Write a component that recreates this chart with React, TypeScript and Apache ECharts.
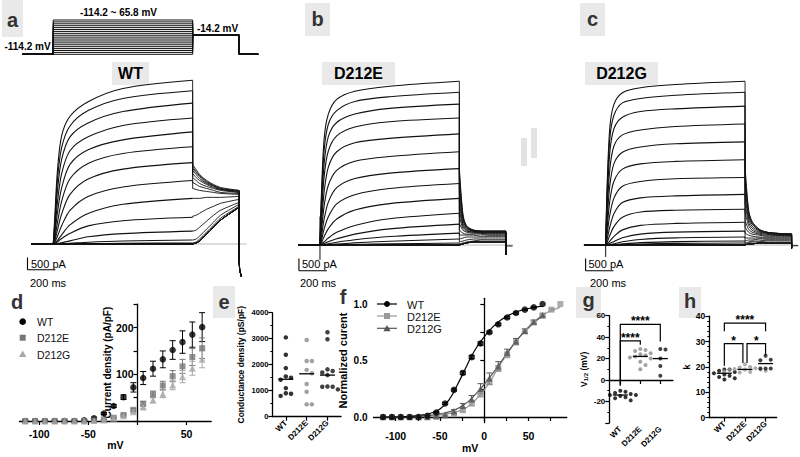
import React, { useEffect, useRef } from "react";
import * as echarts from "echarts";

const FONT = "'Liberation Sans', Arial, Helvetica, sans-serif";

// ---------- voltage protocol (mV) and sweep timing (ms) ----------
const TEST_POTENTIALS = [-114.2, -104.2, -94.2, -84.2, -74.2, -64.2, -54.2, -44.2, -34.2, -24.2, -14.2, -4.2, 5.8, 15.8, 25.8, 35.8, 45.8, 55.8, 65.8];
const HOLDING_MV = -114.2;
const TAIL_MV = -14.2;
const SWEEP_START_MS = -220;
const STEP_END_MS = 1000;
const TAIL_END_MS = 1334;
const SWEEP_END_MS = 1470;

// ---------- whole-cell current sweeps (pA) ----------
const STEP_TIMES = [0, 10, 30, 60, 120, 250, 500, 1000];
const TAIL_TIMES = [1000, 1025, 1050, 1100, 1150, 1200, 1334];

const WT_STEP = [
  [0, 990, 2970, 4360, 5150, 5740, 6270, 6600],
  [0, 800, 2600, 3890, 4760, 5380, 5870, 6180],
  [0, 620, 2160, 3410, 4320, 4880, 5340, 5680],
  [0, 460, 1680, 2840, 3760, 4320, 4780, 5080],
  [0, 320, 1270, 2260, 3210, 3800, 4200, 4520],
  [0, 200, 860, 1720, 2630, 3250, 3650, 3920],
  [0, 130, 560, 1210, 2000, 2620, 3020, 3280],
  [0, 80, 310, 740, 1360, 1920, 2300, 2560],
  [0, 40, 150, 370, 770, 1230, 1600, 1840],
  [0, 20, 90, 220, 430, 730, 940, 1080],
  [0, 5, 20, 50, 125, 290, 420, 520],
  [0, 0, 3, 10, 26, 72, 120, 160],
  [0, 0, 0, 2, 5, 16, 28, 40],
];
const WT_TAIL = [
  [3200, 3000, 2800, 2560, 2400, 2280, 2160],
  [3120, 2920, 2760, 2520, 2360, 2240, 2160],
  [3040, 2880, 2720, 2480, 2360, 2240, 2120],
  [2960, 2800, 2640, 2440, 2320, 2200, 2120],
  [2840, 2680, 2560, 2400, 2280, 2200, 2080],
  [2680, 2560, 2440, 2320, 2240, 2160, 2080],
  [2480, 2400, 2320, 2240, 2160, 2080, 2040],
  [2240, 2200, 2160, 2120, 2080, 2040, 2000],
  [1840, 1840, 1840, 1880, 1880, 1880, 1920],
  [1120, 1160, 1240, 1400, 1520, 1640, 1800],
  [520, 560, 680, 920, 1160, 1360, 1680],
  [160, 200, 320, 600, 880, 1160, 1600],
  [40, 80, 200, 480, 760, 1040, 1520],
];
const WT_CLOSED_TAIL = [0, 40, 120, 400, 680, 960, 1480];
const WT_CLOSED_SWEEPS = 6;
const WT_RETURN = [[1334, -100], [1334, -600], [1337, -1050], [1350, -1320]];

const D212E_STEP = [
  [0, 1980, 4290, 5280, 5870, 6200, 6400, 6600],
  [0, 1730, 3820, 4870, 5420, 5790, 5980, 6160],
  [0, 1420, 3290, 4370, 4940, 5280, 5510, 5680],
  [0, 1130, 2770, 3790, 4400, 4760, 4970, 5120],
  [0, 810, 2150, 3140, 3760, 4120, 4300, 4480],
  [0, 530, 1580, 2410, 3010, 3380, 3570, 3760],
  [0, 310, 1050, 1730, 2310, 2680, 2900, 3080],
  [0, 170, 650, 1140, 1660, 2030, 2280, 2480],
  [0, 90, 340, 660, 1050, 1410, 1670, 1880],
  [0, 40, 130, 280, 510, 790, 1060, 1280],
  [0, 20, 60, 130, 250, 440, 650, 840],
  [0, 5, 20, 50, 110, 210, 340, 480],
  [0, 0, 5, 14, 36, 84, 154, 240],
  [0, 0, 1, 3, 8, 22, 46, 80],
];
const D212E_TAIL = [
  [3120, 1280, 800, 600, 560, 560, 560],
  [2920, 1200, 760, 600, 560, 560, 560],
  [2680, 1120, 720, 600, 560, 560, 560],
  [2400, 1040, 720, 560, 560, 520, 520],
  [2120, 920, 680, 560, 520, 520, 520],
  [1760, 840, 640, 560, 520, 520, 520],
  [1440, 760, 600, 520, 520, 480, 480],
  [1160, 680, 560, 520, 480, 480, 480],
  [880, 600, 520, 480, 480, 440, 440],
  [600, 480, 440, 440, 440, 400, 400],
  [400, 400, 400, 400, 360, 360, 360],
  [240, 280, 320, 320, 320, 320, 320],
  [120, 160, 200, 240, 240, 240, 240],
  [40, 80, 120, 160, 200, 200, 200],
];
const D212E_CLOSED_TAIL = [0, 40, 80, 120, 120, 120, 120];
const D212E_CLOSED_SWEEPS = 5;
const D212E_RETURN = [[1334, -400]];
const D212E_ONSET = [[0, 1150], [0, -600]];
const D212E_AFTER = [[1334, -40], [1382, -40]];

const D212G_STEP = [
  [0, 2310, 4750, 5680, 6140, 6340, 6470, 6600],
  [0, 2030, 4310, 5240, 5730, 5910, 6040, 6160],
  [0, 1680, 3750, 4700, 5150, 5380, 5490, 5600],
  [0, 1320, 3070, 4000, 4440, 4640, 4780, 4880],
  [0, 960, 2410, 3290, 3740, 3950, 4080, 4160],
  [0, 650, 1790, 2580, 3060, 3270, 3370, 3440],
  [0, 410, 1220, 1900, 2370, 2560, 2670, 2720],
  [0, 220, 730, 1270, 1710, 1900, 1980, 2040],
  [0, 100, 390, 750, 1120, 1330, 1400, 1440],
  [0, 40, 160, 350, 610, 790, 870, 920],
  [0, 10, 60, 140, 290, 440, 520, 560],
  [0, 3, 19, 51, 128, 224, 288, 320],
  [0, 0, 5, 16, 48, 96, 136, 160],
  [0, 0, 2, 5, 16, 40, 64, 80],
];
const D212G_TAIL = [
  [3200, 1440, 960, 640, 520, 480, 440],
  [3000, 1360, 920, 640, 520, 480, 440],
  [2720, 1280, 880, 600, 520, 480, 440],
  [2400, 1160, 840, 600, 520, 480, 440],
  [2040, 1040, 760, 560, 480, 440, 440],
  [1680, 920, 680, 520, 480, 440, 400],
  [1320, 800, 600, 480, 440, 400, 400],
  [1000, 640, 520, 440, 400, 400, 360],
  [720, 520, 440, 400, 360, 360, 360],
  [480, 400, 360, 320, 320, 320, 320],
  [280, 280, 280, 280, 280, 280, 280],
  [160, 200, 200, 240, 240, 240, 240],
  [80, 120, 160, 160, 200, 200, 200],
  [40, 80, 120, 120, 160, 160, 160],
];
const D212G_CLOSED_TAIL = [0, 40, 40, 80, 80, 80, 80];
const D212G_CLOSED_SWEEPS = 5;
const D212G_RETURN = [[1334, -130]];
const D212G_ONSET = [[0, 480], [0, -480]];
const D212G_AFTER = [[1334, -30], [1382, -30]];

const SCALE_PA = 500;
const SCALE_MS = 200;

// ---------- d: current density (pA/pF), mean and SEM ----------
const DENSITY_WT = [0, 0, 0, 0, 0, 0, 1.5, 6, 16, 32, 51, 72, 92, 112, 132, 152, 169, 185, 201];
const DENSITY_WT_SEM = [0.5, 0.5, 0.5, 0.5, 0.5, 0.5, 1, 2, 2, 3, 5, 10, 14, 16, 18, 20, 24, 27, 31];
const DENSITY_D212E = [0, 0, 0, 0, 0, 0, 0, 1, 3, 7, 13, 24, 37, 57, 76, 96, 117, 137, 156];
const DENSITY_D212E_SEM = [0, 0, 0, 0, 0, 0, 0, 0.5, 1, 1, 2, 3, 5, 7, 9, 12, 15, 18, 22];
const DENSITY_D212G = [0, 0, 0, 0, 0, 0, 0, 1, 2, 6, 11, 20, 30, 45, 58, 77, 95, 113, 132];
const DENSITY_D212G_SEM = [0, 0, 0, 0, 0, 0, 0, 0.5, 1, 1, 2, 3, 4, 6, 8, 10, 13, 15, 18];

// ---------- e / g / h: per-cell values ----------
const GROUPS = ["WT", "D212E", "D212G"];
const CONDUCTANCE_WT = [3050, 2380, 1870, 1550, 1500, 1420, 1100, 900, 880, 800];
const CONDUCTANCE_D212E = [2950, 2140, 2140, 1800, 1670, 1260, 960, 475, 475];
const CONDUCTANCE_D212G = [3250, 2980, 1820, 1760, 1700, 1600, 1160, 1150, 1150, 1050];
const CONDUCTANCE_CENTER = [1440, 1650, 1600];

const VHALF_WT = [-10, -11, -12, -13, -14, -14, -15, -16, -17, -19];
const VHALF_D212E = [29, 28, 27, 25, 24, 23, 22, 21, 20, 17, 14, 10];
const VHALF_D212G = [29, 28.5, 20, 13, 4];
const VHALF_CENTER = [-14, 22, 20];

const SLOPE_WT = [19, 19, 18.5, 18, 17.5, 17, 16.5, 16, 15.5, 15];
const SLOPE_D212E = [21, 20, 19.8, 19.5, 19.2, 19, 19, 18.8, 18.5, 18.2, 18, 17.8];
const SLOPE_D212G = [24.4, 22.8, 22.6, 19.4, 19.4, 19.4];
const SLOPE_CENTER = [17.5, 19, 21.3];

// ---------- f: normalized conductance (mean, SEM) and Boltzmann fits ----------
const NORM_VOLTAGES_D212E = [...TEST_POTENTIALS, 75.8, 85.8];
const NORM_WT = [0, 0, 0, 0, 0, 0.01, 0.04, 0.12, 0.24, 0.39, 0.53, 0.65, 0.75, 0.82, 0.88, 0.92, 0.95, 0.97, 1.0];
const NORM_WT_SEM = [0, 0, 0, 0, 0, 0, 0.005, 0.01, 0.01, 0.015, 0.015, 0.015, 0.01, 0.01, 0.01, 0.01, 0.005, 0.005, 0];
const NORM_D212E = [0, 0, 0, 0, 0, 0, 0, 0.01, 0.025, 0.06, 0.12, 0.2, 0.31, 0.43, 0.55, 0.66, 0.76, 0.84, 0.9, 0.95, 1.0];
const NORM_D212E_SEM = [0, 0, 0, 0, 0, 0, 0, 0.005, 0.01, 0.015, 0.02, 0.02, 0.025, 0.025, 0.025, 0.02, 0.02, 0.015, 0.01, 0.01, 0];
const NORM_D212G = [0, 0, 0, 0, 0, 0, 0.01, 0.02, 0.05, 0.1, 0.16, 0.25, 0.34, 0.45, 0.57, 0.67, 0.76, 0.84, 0.9];
const NORM_D212G_SEM = [0, 0, 0, 0, 0, 0, 0.005, 0.01, 0.015, 0.02, 0.03, 0.045, 0.05, 0.04, 0.03, 0.025, 0.02, 0.015, 0.01];

const FIT_VOLTAGES = [-114.2, -100, -90, -80, -70, -60, -50, -40, -30, -20, -10, 0, 10, 20, 30, 40, 50, 60, 65.8];
const FIT_WT = [0, 0, 0.003, 0.008, 0.018, 0.035, 0.07, 0.15, 0.29, 0.45, 0.6, 0.71, 0.8, 0.865, 0.91, 0.94, 0.96, 0.975, 0.98];
const FIT_D212G = [0, 0.001, 0.003, 0.006, 0.01, 0.016, 0.027, 0.045, 0.075, 0.125, 0.2, 0.29, 0.39, 0.5, 0.61, 0.71, 0.79, 0.86, 0.89];
const FIT_VOLTAGES_D212E = [-114.2, -100, -90, -80, -70, -60, -50, -40, -30, -20, -10, 0, 10, 20, 30, 40, 50, 60, 70, 80, 85.8];
const FIT_D212E = [0, 0.001, 0.002, 0.003, 0.005, 0.01, 0.018, 0.03, 0.05, 0.085, 0.15, 0.24, 0.36, 0.49, 0.61, 0.71, 0.8, 0.87, 0.92, 0.955, 0.97];

// ---------- helpers ----------
type Sweep = { step: number[]; tail: number[] };

function buildSweeps(step: number[][], tail: number[][], closedTail: number[], closedCount: number): Sweep[] {
  const sweeps: Sweep[] = step.map((s, i) => ({ step: s, tail: tail[i] }));
  const flat = STEP_TIMES.map(() => 0);
  for (let k = 0; k < closedCount; k++) sweeps.push({ step: flat, tail: closedTail });
  return sweeps;
}

const TRACE_STYLE = { stroke: "#111", lineWidth: 1.1, fill: "none" };

function sweepRenderer(sweeps: Sweep[], returnPath: number[][]) {
  return (params: any, api: any) => {
    const s = sweeps[params.dataIndex];
    const last = s.step[s.step.length - 1];
    const tailLast = s.tail[s.tail.length - 1];
    const hold = [api.coord([-155, 0]), api.coord([0, 0])];
    const stepPts = STEP_TIMES.map((t, k) => api.coord([t, s.step[k]]));
    const jump = [api.coord([STEP_END_MS, last]), api.coord([STEP_END_MS, s.tail[0]])];
    const tailPts = TAIL_TIMES.map((t, k) => api.coord([t, s.tail[k]]));
    const close = [api.coord([TAIL_END_MS, tailLast]), ...returnPath.map((p) => api.coord(p))];
    return {
      type: "group",
      children: [
        { type: "polyline", shape: { points: hold }, style: { ...TRACE_STYLE, lineWidth: 1.6 } },
        { type: "polyline", shape: { points: stepPts, smooth: 0.3 }, style: TRACE_STYLE },
        { type: "polyline", shape: { points: jump }, style: { ...TRACE_STYLE, lineWidth: 0.9 } },
        { type: "polyline", shape: { points: tailPts, smooth: 0.3 }, style: { ...TRACE_STYLE, lineWidth: 0.9 } },
        { type: "polyline", shape: { points: close }, style: { ...TRACE_STYLE, lineWidth: 0.9 } },
      ],
    };
  };
}

function protocolRenderer(params: any, api: any) {
  const v = TEST_POTENTIALS[params.dataIndex];
  const pts = [
    [SWEEP_START_MS, HOLDING_MV], [0, HOLDING_MV], [0, v], [STEP_END_MS, v],
    [STEP_END_MS, TAIL_MV], [TAIL_END_MS, TAIL_MV], [TAIL_END_MS, HOLDING_MV], [SWEEP_END_MS, HOLDING_MV],
  ].map((p) => api.coord(p));
  return { type: "polyline", shape: { points: pts }, style: { stroke: "#111", lineWidth: 1, fill: "none" } };
}

function errorBars(color: string, cap: number) {
  return (params: any, api: any) => {
    const x = api.value(0);
    const lo = api.coord([x, api.value(1)]);
    const hi = api.coord([x, api.value(2)]);
    const st = { stroke: color, lineWidth: 1 };
    return {
      type: "group",
      children: [
        { type: "line", shape: { x1: lo[0], y1: lo[1], x2: hi[0], y2: hi[1] }, style: st },
        { type: "line", shape: { x1: lo[0] - cap, y1: lo[1], x2: lo[0] + cap, y2: lo[1] }, style: st },
        { type: "line", shape: { x1: hi[0] - cap, y1: hi[1], x2: hi[0] + cap, y2: hi[1] }, style: st },
      ],
    };
  };
}

function centerLine(halfPx: number) {
  return (params: any, api: any) => {
    const p = api.coord([api.value(0), api.value(1)]);
    return { type: "line", shape: { x1: p[0] - halfPx, y1: p[1], x2: p[0] + halfPx, y2: p[1] }, style: { stroke: "#000", lineWidth: 1.3 } };
  };
}

type Bracket = { x1: number; x2: number; y: number; leg1: number; leg2: number; text: string };
function bracketRenderer(list: Bracket[]) {
  return (params: any, api: any) => {
    const b = list[params.dataIndex];
    const pts = [[b.x1, b.leg1], [b.x1, b.y], [b.x2, b.y], [b.x2, b.leg2]].map((p) => api.coord(p));
    const c = api.coord([(b.x1 + b.x2) / 2, b.y]);
    return {
      type: "group",
      children: [
        { type: "polyline", shape: { points: pts }, style: { stroke: "#000", lineWidth: 1.2, fill: "none" } },
        {
          type: "text",
          style: {
            text: b.text, x: c[0], y: c[1] + 3, fill: "#000", font: `bold 12px ${FONT}`,
            align: "center", verticalAlign: "bottom", textAlign: "center", textVerticalAlign: "bottom",
          },
        },
      ],
    };
  };
}

// beeswarm placement: points with overlapping values are spread sideways
function swarm(values: number[], center: number, pxPerX: number, pxPerY: number, dotPx: number) {
  const sorted = [...values].sort((a, b) => b - a);
  const placed: { x: number; y: number }[] = [];
  const out: number[][] = [];
  for (const v of sorted) {
    const y = v * pxPerY;
    let off = 0;
    for (let k = 0; k < 30; k++) {
      const cand = k === 0 ? 0 : Math.ceil(k / 2) * dotPx * (k % 2 ? 1 : -1);
      if (placed.every((p) => Math.hypot(p.x - cand, p.y - y) >= dotPx * 0.95)) {
        off = cand;
        break;
      }
    }
    placed.push({ x: off, y });
    out.push([center + off / pxPerX, v]);
  }
  return out;
}

const axisLine = { show: true, onZero: true, lineStyle: { color: "#000", width: 1.3 } };
const axisTick = { show: true, length: 4, lineStyle: { color: "#000", width: 1.2 } };
const boldLabel = (size: number) => ({ color: "#000", fontWeight: "bold" as const, fontSize: size, fontFamily: FONT });
const hidden = { show: false };

function buildOption() {
  const wtSweeps = buildSweeps(WT_STEP, WT_TAIL, WT_CLOSED_TAIL, WT_CLOSED_SWEEPS);
  const eSweeps = buildSweeps(D212E_STEP, D212E_TAIL, D212E_CLOSED_TAIL, D212E_CLOSED_SWEEPS);
  const gSweeps = buildSweeps(D212G_STEP, D212G_TAIL, D212G_CLOSED_TAIL, D212G_CLOSED_SWEEPS);

  const traceX = (i: number, max: number) => ({ gridIndex: i, type: "value", min: -200, max, show: false });
  const traceY = (i: number) => ({ gridIndex: i, type: "value", min: -1500, max: 7500, show: false });

  const sweepSeries = (grid: number, sweeps: Sweep[], ret: number[][]) => ({
    type: "custom", xAxisIndex: grid, yAxisIndex: grid, z: 3,
    renderItem: sweepRenderer(sweeps, ret),
    data: sweeps.map((_, i) => [i, 0]),
    encode: { x: 0, y: 1 },
  });
  const plainLine = (grid: number, data: number[][], color: string, width: number, z = 2) => ({
    type: "line", xAxisIndex: grid, yAxisIndex: grid, data, showSymbol: false, symbol: "none", z,
    lineStyle: { color, width }, silent: true,
  });
  const scaleBar = (grid: number, t: number) => [
    plainLine(grid, [[t, -1040], [t, -1040 + SCALE_PA]], "#000", 1.1),
    plainLine(grid, [[t, -1040], [t + SCALE_MS, -1040]], "#000", 1.1),
  ];

  const ebData = (xs: number[], m: number[], sem: number[]) =>
    xs.map((x, i) => [x, m[i] - sem[i], m[i] + sem[i]]).filter((_, i) => sem[i] > 0);

  const groupX = (labelSize: number) => ({
    axisLine, axisTick: { ...axisTick, customValues: [1, 2, 3] },
    axisLabel: { ...boldLabel(labelSize), rotate: 45, margin: 5, customValues: [1, 2, 3], formatter: (v: number) => GROUPS[Math.round(v) - 1] ?? "" },
    splitLine: hidden,
  });

  const E_PX = [20.82, 0.026];
  const G_PX = [20.0, 1.0717];
  const H_PX = [20.61, 2.54];

  const gBrackets: Bracket[] = [
    { x1: 1, x2: 3, y: 52, leg1: -5, leg2: 36, text: "****" },
    { x1: 1, x2: 2, y: 36.5, leg1: -5, leg2: 33, text: "****" },
  ];
  const hBrackets: Bracket[] = [
    { x1: 1, x2: 3, y: 37.2, leg1: 34, leg2: 34, text: "****" },
    { x1: 1, x2: 1.9, y: 29.2, leg1: 20.5, leg2: 21.5, text: "*" },
    { x1: 2.1, x2: 3, y: 29.2, leg1: 21.5, leg2: 24.7, text: "*" },
  ];

  const groupSeries = (grid: number, groups: number[][], centers: number[], px: number[], colors: string[], size: number) => [
    ...groups.map((vals, gi) => ({
      type: "scatter", xAxisIndex: grid, yAxisIndex: grid, symbol: "circle", symbolSize: size, z: 4,
      itemStyle: { color: colors[gi] },
      data: swarm(vals, gi + 1, px[0], px[1], 5.2),
    })),
    {
      type: "custom", xAxisIndex: grid, yAxisIndex: grid, z: 5, renderItem: centerLine(7.5),
      data: centers.map((c, i) => [i + 1, c]), encode: { x: 0, y: 1 },
    },
  ];

  const txt = (text: string, x: number, y: number, font: string, align = "center", fill = "#000") => ({
    type: "text", x, y, silent: true,
    style: { text, font, fill, align, verticalAlign: "middle", textAlign: align, textVerticalAlign: "middle" },
  });
  const box = (x: number, y: number, w: number, h: number, fill = "#e9e9e9") => ({
    type: "rect", shape: { x, y, width: w, height: h }, style: { fill }, silent: true, z: -1,
  });

  const graphic: any[] = [
    // panel tags
    box(2, 0, 21, 37), txt("a", 12.5, 20, `bold 20px ${FONT}`, "center", "#333"),
    box(305, 3, 25, 33), txt("b", 317.5, 19, `bold 20px ${FONT}`, "center", "#333"),
    box(580, 3, 25, 33), txt("c", 592.5, 19, `bold 20px ${FONT}`, "center", "#333"),
    txt("d", 17, 302, `bold 20px ${FONT}`, "center", "#333"),
    box(213, 286, 22, 32), txt("e", 224, 302, `bold 20px ${FONT}`, "center", "#333"),
    txt("f", 343, 297, `bold 20px ${FONT}`, "center", "#333"),
    box(576, 287, 25, 31), txt("g", 588.5, 300, `bold 20px ${FONT}`, "center", "#333"),
    box(679, 287, 22, 31), txt("h", 690, 301, `bold 20px ${FONT}`, "center", "#333"),
    // construct tags
    box(112, 62, 37, 23), txt("WT", 130.5, 73.5, `bold 16px ${FONT}`),
    box(322, 62, 73, 23), txt("D212E", 358.5, 73.5, `bold 16px ${FONT}`),
    box(585, 62, 73, 23), txt("D212G", 621.5, 73.5, `bold 16px ${FONT}`),
    // protocol annotations
    txt("-114.2 ~ 65.8 mV", 118.5, 12.5, `bold 10px ${FONT}`),
    txt("-114.2 mV", 27.5, 46, `bold 10px ${FONT}`),
    txt("-14.2 mV", 217.5, 28, `bold 10px ${FONT}`),
    // scale bar labels
    txt("500 pA", 31, 264, `11px ${FONT}`, "left"), txt("200 ms", 30, 283, `11px ${FONT}`, "left"),
    txt("500 pA", 302, 264, `11px ${FONT}`, "left"), txt("200 ms", 300, 283, `11px ${FONT}`, "left"),
    txt("500 pA", 588.5, 264, `11px ${FONT}`, "left"), txt("200 ms", 590, 283, `11px ${FONT}`, "left"),
    // stray marks between panels b and c
    box(521, 138, 6, 28, "#e2e2e2"), box(531, 128, 6, 30, "#e2e2e2"),
    // legend, panel d
    { type: "circle", shape: { cx: 22.7, cy: 321.7, r: 3.3 }, style: { fill: "#000" }, silent: true },
    { type: "rect", shape: { x: 19.7, y: 334.7, width: 6, height: 6 }, style: { fill: "#777" }, silent: true },
    { type: "polygon", shape: { points: [[22.7, 350.5], [26.4, 357], [19, 357]] }, style: { fill: "#a8a8a8" }, silent: true },
    txt("WT", 37, 322, `10.5px ${FONT}`, "left", "#111"),
    txt("D212E", 37, 338, `10.5px ${FONT}`, "left", "#111"),
    txt("D212G", 37, 354.5, `10.5px ${FONT}`, "left", "#111"),
    // legend, panel f
    { type: "line", shape: { x1: 377, y1: 304, x2: 397, y2: 304 }, style: { stroke: "#000", lineWidth: 1.2 }, silent: true },
    { type: "circle", shape: { cx: 387, cy: 304, r: 3 }, style: { fill: "#000" }, silent: true },
    { type: "line", shape: { x1: 377, y1: 316, x2: 397, y2: 316 }, style: { stroke: "#999", lineWidth: 1.2 }, silent: true },
    { type: "rect", shape: { x: 384, y: 313, width: 6, height: 6 }, style: { fill: "#999" }, silent: true },
    { type: "line", shape: { x1: 377, y1: 328.3, x2: 397, y2: 328.3 }, style: { stroke: "#555", lineWidth: 1.2 }, silent: true },
    { type: "polygon", shape: { points: [[387, 325], [390.6, 331.3], [383.4, 331.3]] }, style: { fill: "#555" }, silent: true },
    txt("WT", 407, 304.5, `11px ${FONT}`, "left", "#111"),
    txt("D212E", 407, 316.5, `11px ${FONT}`, "left", "#111"),
    txt("D212G", 407, 329, `11px ${FONT}`, "left", "#111"),
  ];

  return {
    animation: false,
    backgroundColor: "#fff",
    textStyle: { fontFamily: FONT },
    graphic,
    grid: [
      { left: 22.6, top: 20, width: 235.6, height: 34.3 },
      { left: 25.4, top: 58.0, width: 223.0, height: 223.2 },
      { left: 292.1, top: 59.0, width: 223.0, height: 223.2 },
      { left: 577.8, top: 59.0, width: 221.6, height: 223.2 },
      { left: 19.5, top: 304.25, width: 191.7, height: 116.75 },
      { left: 272.3, top: 312.7, width: 68.7, height: 104 },
      { left: 373.5, top: 298.35, width: 193.2, height: 124.3 },
      { left: 609.3, top: 315.7, width: 63.6, height: 107.2 },
      { left: 709.3, top: 316.1, width: 67.4, height: 101.6 },
      // vertical axis of panel d, which crosses the voltage axis at 0 mV
      { left: 137.5, top: 304.25, width: 10, height: 116.75 },
    ],
    xAxis: [
      { gridIndex: 0, type: "value", min: SWEEP_START_MS, max: SWEEP_END_MS, show: false },
      traceX(1, 1400),
      traceX(2, 1400),
      traceX(3, 1390),
      {
        gridIndex: 4, type: "value", min: -120, max: 75, axisLine,
        axisTick: { ...axisTick, customValues: [-100, -50, 0, 50] },
        axisLabel: { ...boldLabel(10.5), margin: 7, customValues: [-100, -50, 50] },
        splitLine: hidden,
        name: "mV", nameLocation: "middle", nameGap: 17, nameTextStyle: boldLabel(10.5),
      },
      { gridIndex: 5, type: "value", min: 0.35, max: 3.65, ...groupX(8) },
      {
        gridIndex: 6, type: "value", min: -125, max: 93, axisLine,
        axisTick: { ...axisTick, customValues: [-100, -75, -50, -25, 0, 25, 50, 75] },
        axisLabel: { ...boldLabel(10.5), margin: 8, customValues: [-100, -50, 0, 50] },
        splitLine: hidden,
        name: "mV", nameLocation: "middle", nameGap: 17, nameTextStyle: boldLabel(10.5),
      },
      { gridIndex: 7, type: "value", min: 0.45, max: 3.63, ...groupX(8) },
      { gridIndex: 8, type: "value", min: 0.27, max: 3.54, ...groupX(8) },
      { gridIndex: 9, type: "value", min: 0, max: 1, show: false },
    ],
    yAxis: [
      { gridIndex: 0, type: "value", min: HOLDING_MV, max: 65.8, show: false },
      traceY(1),
      traceY(2),
      traceY(3),
      { gridIndex: 4, type: "value", min: 0, max: 250, show: false },
      {
        gridIndex: 5, type: "value", min: 0, max: 4000, interval: 1000, axisLine, axisTick,
        minorTick: { show: true, splitNumber: 2, length: 2, lineStyle: { color: "#000" } },
        axisLabel: { ...boldLabel(7.5), margin: 4, formatter: (v: number) => String(v) }, splitLine: hidden,
        name: "Conductance density (pS/pF)", nameLocation: "middle", nameGap: 27, nameTextStyle: boldLabel(8.5),
      },
      {
        gridIndex: 6, type: "value", min: -0.05, max: 1.05, axisLine,
        axisTick: { ...axisTick, customValues: [0, 0.25, 0.5, 0.75, 1] },
        axisLabel: { ...boldLabel(10), margin: 6, customValues: [0, 0.5, 1], formatter: (v: number) => v.toFixed(1) },
        splitLine: hidden,
        name: "Normalized curent", nameLocation: "middle", nameGap: 25, nameTextStyle: boldLabel(11),
      },
      {
        gridIndex: 7, type: "value", min: -40, max: 60, interval: 20, axisLine, axisTick,
        minorTick: { show: true, splitNumber: 2, length: 2, lineStyle: { color: "#000" } },
        axisLabel: { ...boldLabel(8), margin: 4, formatter: (v: number) => (v === -40 ? "" : String(v)) },
        splitLine: hidden,
        name: "V{s|1/2} (mV)", nameLocation: "middle", nameGap: 20,
        nameTextStyle: { ...boldLabel(8.5), rich: { s: { fontSize: 6, fontWeight: "bold", verticalAlign: "bottom", padding: [4, 0, 0, 0] } } },
      },
      {
        gridIndex: 8, type: "value", min: 0, max: 40, interval: 10, axisLine, axisTick,
        minorTick: { show: true, splitNumber: 5, length: 2, lineStyle: { color: "#000" } },
        axisLabel: { ...boldLabel(8.5), margin: 4 }, splitLine: hidden,
        name: "k", nameLocation: "middle", nameGap: 16, nameTextStyle: boldLabel(9),
      },
      {
        gridIndex: 9, type: "value", min: 0, max: 250, interval: 50,
        axisLine: { show: true, onZero: false, lineStyle: { color: "#000", width: 1.3 } }, axisTick,
        axisLabel: { ...boldLabel(10.5), margin: 4, formatter: (v: number) => (v === 100 || v === 200 ? String(v) : "") },
        splitLine: hidden,
        name: "Current density (pA/pF)", nameLocation: "middle", nameGap: 24, nameTextStyle: boldLabel(10),
      },
    ],
    series: [
      // protocol
      {
        type: "custom", xAxisIndex: 0, yAxisIndex: 0, renderItem: protocolRenderer,
        data: TEST_POTENTIALS.map((v) => [0, v]), encode: { x: 0, y: 1 },
      },
      // a: WT sweeps
      plainLine(1, [[-155, 0], [1387, 0]], "#a8a8a8", 0.8, 1),
      sweepSeries(1, wtSweeps, WT_RETURN),
      ...scaleBar(1, -185),
      // b: D212E sweeps
      plainLine(2, [[-157, 0], [1386, 0]], "#a8a8a8", 0.8, 1),
      sweepSeries(2, eSweeps, D212E_RETURN),
      plainLine(2, D212E_ONSET, "#111", 1),
      plainLine(2, D212E_AFTER, "#111", 1),
      ...scaleBar(2, -151),
      // c: D212G sweeps
      plainLine(3, [[-163, 0], [1380, 0]], "#a8a8a8", 0.8, 1),
      sweepSeries(3, gSweeps, D212G_RETURN),
      plainLine(3, D212G_ONSET, "#111", 1),
      plainLine(3, D212G_AFTER, "#111", 1),
      ...scaleBar(3, -144),
      // d: I-V
      { type: "custom", xAxisIndex: 4, yAxisIndex: 4, z: 2, renderItem: errorBars("#000", 3), data: ebData(TEST_POTENTIALS, DENSITY_WT, DENSITY_WT_SEM), encode: { x: 0, y: [1, 2] } },
      { type: "custom", xAxisIndex: 4, yAxisIndex: 4, z: 2, renderItem: errorBars("#777", 3), data: ebData(TEST_POTENTIALS, DENSITY_D212E, DENSITY_D212E_SEM), encode: { x: 0, y: [1, 2] } },
      { type: "custom", xAxisIndex: 4, yAxisIndex: 4, z: 2, renderItem: errorBars("#a8a8a8", 3), data: ebData(TEST_POTENTIALS, DENSITY_D212G, DENSITY_D212G_SEM), encode: { x: 0, y: [1, 2] } },
      { type: "scatter", name: "WT", xAxisIndex: 4, yAxisIndex: 4, z: 4, symbol: "circle", symbolSize: 6.5, itemStyle: { color: "#000" }, data: TEST_POTENTIALS.map((v, i) => [v, DENSITY_WT[i]]) },
      { type: "scatter", name: "D212E", xAxisIndex: 4, yAxisIndex: 4, z: 4, symbol: "rect", symbolSize: 6, itemStyle: { color: "#777" }, data: TEST_POTENTIALS.map((v, i) => [v, DENSITY_D212E[i]]) },
      { type: "scatter", name: "D212G", xAxisIndex: 4, yAxisIndex: 4, z: 4, symbol: "triangle", symbolSize: 7, itemStyle: { color: "#a8a8a8" }, data: TEST_POTENTIALS.map((v, i) => [v, DENSITY_D212G[i]]) },
      // e: conductance density
      ...groupSeries(5, [CONDUCTANCE_WT, CONDUCTANCE_D212E, CONDUCTANCE_D212G], CONDUCTANCE_CENTER, E_PX, ["#000", "#8a8a8a", "#111"], 4.5),
      // f: activation curves
      { type: "line", xAxisIndex: 6, yAxisIndex: 6, z: 2, smooth: true, showSymbol: false, symbol: "none", lineStyle: { color: "#999", width: 1.2 }, data: FIT_VOLTAGES_D212E.map((v, i) => [v, FIT_D212E[i]]) },
      { type: "line", xAxisIndex: 6, yAxisIndex: 6, z: 2, smooth: true, showSymbol: false, symbol: "none", lineStyle: { color: "#555", width: 1.2 }, data: FIT_VOLTAGES.map((v, i) => [v, FIT_D212G[i]]) },
      { type: "line", xAxisIndex: 6, yAxisIndex: 6, z: 2, smooth: true, showSymbol: false, symbol: "none", lineStyle: { color: "#000", width: 1.2 }, data: FIT_VOLTAGES.map((v, i) => [v, FIT_WT[i]]) },
      { type: "custom", xAxisIndex: 6, yAxisIndex: 6, z: 3, renderItem: errorBars("#999", 3), data: ebData(NORM_VOLTAGES_D212E, NORM_D212E, NORM_D212E_SEM), encode: { x: 0, y: [1, 2] } },
      { type: "custom", xAxisIndex: 6, yAxisIndex: 6, z: 3, renderItem: errorBars("#555", 3), data: ebData(TEST_POTENTIALS, NORM_D212G, NORM_D212G_SEM), encode: { x: 0, y: [1, 2] } },
      { type: "custom", xAxisIndex: 6, yAxisIndex: 6, z: 3, renderItem: errorBars("#000", 3), data: ebData(TEST_POTENTIALS, NORM_WT, NORM_WT_SEM), encode: { x: 0, y: [1, 2] } },
      { type: "scatter", xAxisIndex: 6, yAxisIndex: 6, z: 4, symbol: "rect", symbolSize: 6, itemStyle: { color: "#999" }, data: NORM_VOLTAGES_D212E.map((v, i) => [v, NORM_D212E[i]]) },
      { type: "scatter", xAxisIndex: 6, yAxisIndex: 6, z: 4, symbol: "triangle", symbolSize: 6.5, itemStyle: { color: "#555" }, data: TEST_POTENTIALS.map((v, i) => [v, NORM_D212G[i]]) },
      { type: "scatter", xAxisIndex: 6, yAxisIndex: 6, z: 5, symbol: "circle", symbolSize: 6.5, itemStyle: { color: "#000" }, data: TEST_POTENTIALS.map((v, i) => [v, NORM_WT[i]]) },
      // g: V1/2
      ...groupSeries(7, [VHALF_WT, VHALF_D212E, VHALF_D212G], VHALF_CENTER, G_PX, ["#000", "#8a8a8a", "#111"], 4),
      {
        type: "line", xAxisIndex: 7, yAxisIndex: 7, data: [], silent: true,
        markLine: { silent: true, symbol: "none", label: { show: false }, lineStyle: { color: "#000", type: [2, 2], width: 1 }, data: [{ yAxis: 0 }] },
      },
      { type: "custom", xAxisIndex: 7, yAxisIndex: 7, z: 6, renderItem: bracketRenderer(gBrackets), data: gBrackets.map((b) => [b.x1, b.y]), encode: { x: 0, y: 1 } },
      // h: slope factor
      ...groupSeries(8, [SLOPE_WT, SLOPE_D212E, SLOPE_D212G], SLOPE_CENTER, H_PX, ["#000", "#999", "#111"], 4),
      { type: "custom", xAxisIndex: 8, yAxisIndex: 8, z: 6, renderItem: bracketRenderer(hBrackets), data: hBrackets.map((b) => [b.x1, b.y]), encode: { x: 0, y: 1 } },
    ],
  };
}

export default function App() {
  const ref = useRef<HTMLDivElement>(null);
  useEffect(() => {
    if (!ref.current) return;
    const chart = echarts.init(ref.current, null, { renderer: "svg" });
    chart.setOption(buildOption() as any);
    return () => chart.dispose();
  }, []);
  return <div ref={ref} style={{ position: "fixed", left: 0, top: 0, width: 800, height: 457, background: "#fff" }} />;
}
